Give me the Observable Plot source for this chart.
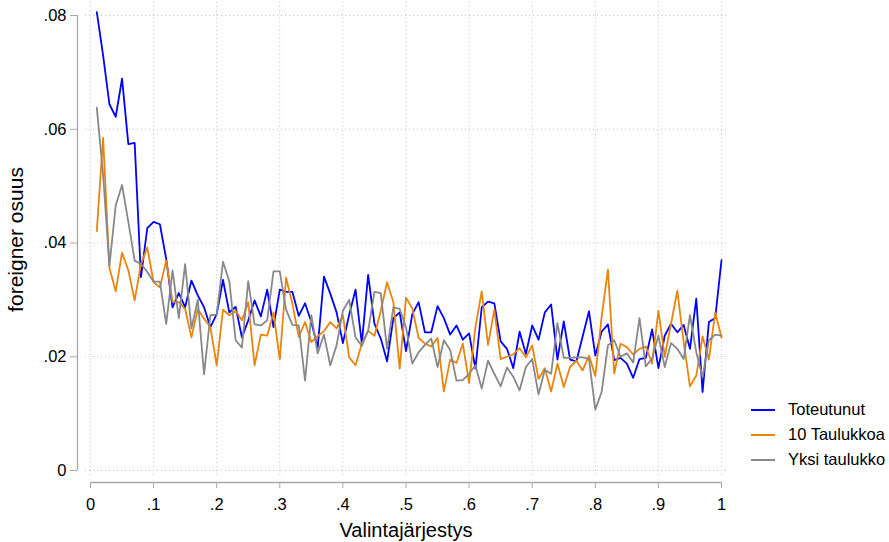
<!DOCTYPE html>
<html><head><meta charset="utf-8">
<script src="https://cdn.jsdelivr.net/npm/d3@7"></script>
<script src="https://cdn.jsdelivr.net/npm/@observablehq/plot@0.6"></script>
<style>
body{margin:0;background:#fff;font-family:"Liberation Sans",Arial,Helvetica,sans-serif;}
#wrap{position:relative;width:889px;height:542px;}
#legend{position:absolute;left:751px;top:397px;font-size:16.5px;color:#000;}
.item{display:flex;align-items:center;height:25px;white-space:nowrap;}
.swatch{width:24px;height:0;border-top:2px solid;margin-right:13px;}
</style></head><body><div id="wrap"><div id="legend"></div></div>
<script>
const seriesNames = ["Toteutunut", "10 Taulukkoa", "Yksi taulukko"];
const seriesColors = ["#0000ff", "#e8850c", "#888888"];

const toteutunut = [
.0806,.0730,.0644,.0622,.0689,.0574,.0576,.0340,.0426,.0437,
.0433,.0372,.0287,.0312,.0287,.0334,.0308,.0287,.0252,.0275,
.0335,.0278,.0288,.0234,.0264,.0299,.0271,.0318,.0252,.0318,
.0314,.0314,.0272,.0294,.0261,.0216,.0341,.0311,.0278,.0224,
.0274,.0318,.0223,.0344,.0258,.0232,.0192,.0268,.0278,.0210,
.0275,.0296,.0243,.0243,.0289,.0268,.0239,.0255,.0230,.0241,
.0179,.0287,.0297,.0294,.0227,.0214,.0180,.0244,.0205,.0255,
.0230,.0278,.0292,.0195,.0262,.0195,.0192,.0236,.0280,.0202,
.0244,.0257,.0194,.0198,.0188,.0163,.0196,.0198,.0248,.0180,
.0237,.0258,.0243,.0256,.0214,.0302,.0138,.0261,.0268,.0370];

const kymmenenTaulukkoa = [
.0421,.0585,.0356,.0315,.0383,.0352,.0299,.0363,.0392,.0331,
.0322,.0369,.0297,.0296,.0284,.0234,.0284,.0267,.0252,.0185,
.0283,.0273,.0281,.0264,.0296,.0185,.0239,.0237,.0278,.0195,
.0339,.0293,.0235,.0261,.0226,.0236,.0245,.0261,.0250,.0273,
.0199,.0185,.0223,.0246,.0237,.0281,.0331,.0296,.0179,.0304,
.0285,.0233,.0223,.0218,.0233,.0139,.0195,.0189,.0223,.0154,
.0252,.0315,.0221,.0283,.0196,.0200,.0204,.0215,.0199,.0220,
.0161,.0180,.0139,.0188,.0147,.0182,.0193,.0176,.0202,.0166,
.0270,.0353,.0171,.0223,.0217,.0204,.0214,.0218,.0188,.0281,
.0200,.0258,.0316,.0226,.0148,.0167,.0236,.0195,.0278,.0234];

const yksiTaulukko = [
.0638,.0520,.0360,.0466,.0502,.0437,.0369,.0363,.0349,.0332,
.0332,.0258,.0352,.0268,.0363,.0250,.0300,.0169,.0273,.0274,
.0367,.0333,.0229,.0216,.0333,.0257,.0255,.0264,.0350,.0350,
.0283,.0256,.0255,.0158,.0273,.0206,.0239,.0185,.0220,.0281,
.0300,.0234,.0219,.0246,.0314,.0312,.0214,.0287,.0284,.0252,
.0188,.0208,.0221,.0232,.0182,.0229,.0212,.0158,.0159,.0170,
.0185,.0144,.0193,.0170,.0148,.0181,.0165,.0141,.0182,.0196,
.0134,.0177,.0170,.0259,.0198,.0198,.0199,.0199,.0196,.0107,
.0138,.0220,.0229,.0200,.0206,.0190,.0268,.0183,.0197,.0237,
.0182,.0224,.0214,.0196,.0273,.0208,.0164,.0229,.0239,.0237];

const xTicks = [0,.1,.2,.3,.4,.5,.6,.7,.8,.9,1];
const xTickLabels = ["0",".1",".2",".3",".4",".5",".6",".7",".8",".9","1"];
const yTicks = [0,.02,.04,.06,.08];
const yTickLabels = ["0",".02",".04",".06",".08"];
const xTitle = "Valintajärjestys";
const yTitle = "foreigner osuus";

const seriesValues = [toteutunut, kymmenenTaulukkoa, yksiTaulukko];
const data = [];
seriesValues.forEach((vals, s) => vals.forEach((v, i) => data.push({x: (i + 1) / 100, y: v, series: seriesNames[s]})));

const font = "Liberation Sans, Arial, Helvetica, sans-serif";
const chart = Plot.plot({
  width: 889, height: 542,
  marginLeft: 85, marginRight: 163, marginTop: 2, marginBottom: 66,
  style: {fontFamily: font, fontSize: "16.5px", background: "white", overflow: "visible"},
  x: {domain: [-0.0079, 1.0079]},
  y: {domain: [-0.001055, 0.08229]},
  color: {domain: seriesNames, range: seriesColors},
  marks: [
    Plot.gridX(xTicks, {stroke: "#c4c4c4", strokeOpacity: 1, strokeDasharray: "1,3"}),
    Plot.gridY(yTicks, {stroke: "#c4c4c4", strokeOpacity: 1, strokeDasharray: "1,3"}),
    Plot.ruleY([0], {x1: 0, x2: 1, dy: 12, stroke: "#a8a8a8", strokeWidth: 1.3}),
    Plot.ruleX([0], {y1: 0, y2: 0.08, dx: -13, stroke: "#a8a8a8", strokeWidth: 1.3}),
    Plot.axisX(xTicks, {tickFormat: d => xTickLabels[xTicks.indexOf(d)], dy: 6, tickSize: 6, tickPadding: 10, stroke: "#a8a8a8", fill: "black", fontSize: 16.5, label: null}),
    Plot.axisY(yTicks, {tickFormat: d => yTickLabels[yTicks.indexOf(d)], dx: -8, tickSize: 7, tickPadding: 4, stroke: "#a8a8a8", fill: "black", fontSize: 16.5, label: null}),
    Plot.text([xTitle], {frameAnchor: "bottom", lineAnchor: "middle", textAnchor: "middle", dy: 54, fontSize: 20, fill: "black"}),
    Plot.text([yTitle], {frameAnchor: "left", lineAnchor: "middle", textAnchor: "middle", dx: -69, rotate: -90, fontSize: 21, fill: "black"}),
    Plot.line(data, {x: "x", y: "y", z: "series", stroke: "series", strokeWidth: 1.8})
  ]
});
document.getElementById("wrap").prepend(chart);
const legend = document.getElementById("legend");
seriesNames.forEach((n, i) => {
  const item = document.createElement("div");
  item.className = "item";
  const sw = document.createElement("span");
  sw.className = "swatch";
  sw.style.borderColor = seriesColors[i];
  const t = document.createElement("span");
  t.textContent = n;
  item.append(sw, t);
  legend.append(item);
});
</script>
</body></html>
